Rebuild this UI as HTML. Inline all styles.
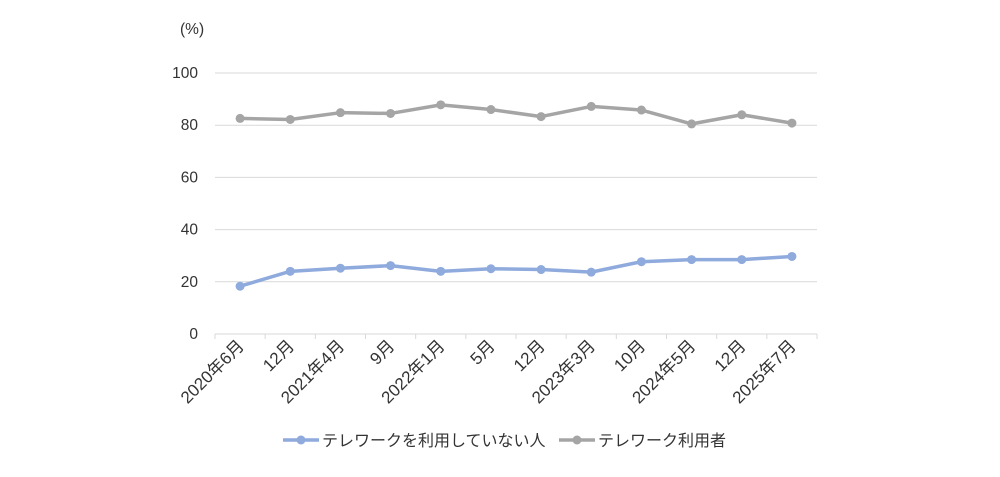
<!DOCTYPE html>
<html><head><meta charset="utf-8"><style>
body{margin:0;background:#fff;}
svg text{font-family:"Liberation Sans","Noto Sans CJK JP",sans-serif;fill:#333;}
</style></head><body>
<svg id="c" width="1000" height="472"></svg>
<script>
const categories=["2020年6月","12月","2021年4月","9月","2022年1月","5月","12月","2023年3月","10月","2024年5月","12月","2025年7月"];
const nonUsers=[18.3,24,25.2,26.2,24,25,24.7,23.7,27.7,28.5,28.5,29.7];
const users=[82.6,82.2,84.8,84.5,87.8,86,83.3,87.2,85.8,80.5,84,80.8];
const yTicks=[0,20,40,60,80,100];
const svg=document.getElementById('c');const NS='http://www.w3.org/2000/svg';
const L=215,R=817,T=73,B=334;
const step=(R-L)/categories.length;
const x=i=>L+step*(i+0.5);
const y=v=>B-(v/100)*(B-T);
function mk(t,a,p){const e=document.createElementNS(NS,t);for(const k in a)e.setAttribute(k,a[k]);(p||svg).appendChild(e);return e;}
yTicks.forEach(v=>{
 const g=mk('line',{x1:L,x2:R,y1:y(v),y2:y(v),stroke:'#d9d9d9','stroke-width':1});
 
 
 const t=mk('text',{x:198,y:y(v)+5,'text-anchor':'end','font-size':15.5});t.textContent=v;
 
 
});
const u=mk('text',{x:180,y:34,'font-size':15.5});u.textContent='(%)';


for(let i=0;i<=categories.length;i++){const tk=mk('line',{x1:L+step*i,x2:L+step*i,y1:B,y2:B+5,stroke:'#d9d9d9'});
 
 }
categories.forEach((c,i)=>{
 const t=mk('text',{x:x(i)+5,y:B+13,'text-anchor':'end','font-size':17,transform:`rotate(-45 ${x(i)+5} ${B+13})`});t.textContent=c;
 
 
});
function series(data,color,name){
 const p=mk('polyline',{points:data.map((v,i)=>x(i)+','+y(v)).join(' '),fill:'none',stroke:color,'stroke-width':3.5,'stroke-linejoin':'round'});
 
 
 data.forEach((v,i)=>{const c=mk('circle',{cx:x(i),cy:y(v),r:4.5,fill:color});
  
  });
}
series(users,'#a5a5a5','users');
series(nonUsers,'#8faadc','non-users');
function legend(lx,color,label,name){
 const g=mk('g',{});
 
 
 mk('line',{x1:lx,x2:lx+36,y1:440,y2:440,stroke:color,'stroke-width':3.5},g);
 mk('circle',{cx:lx+18,cy:440,r:4.5,fill:color},g);
 const t=mk('text',{x:lx+39,y:446,'font-size':16},g);t.textContent=label;
}
legend(283,'#8faadc','テレワークを利用していない人','non-users');
legend(559,'#a5a5a5','テレワーク利用者','users');
</script>
</body></html>
